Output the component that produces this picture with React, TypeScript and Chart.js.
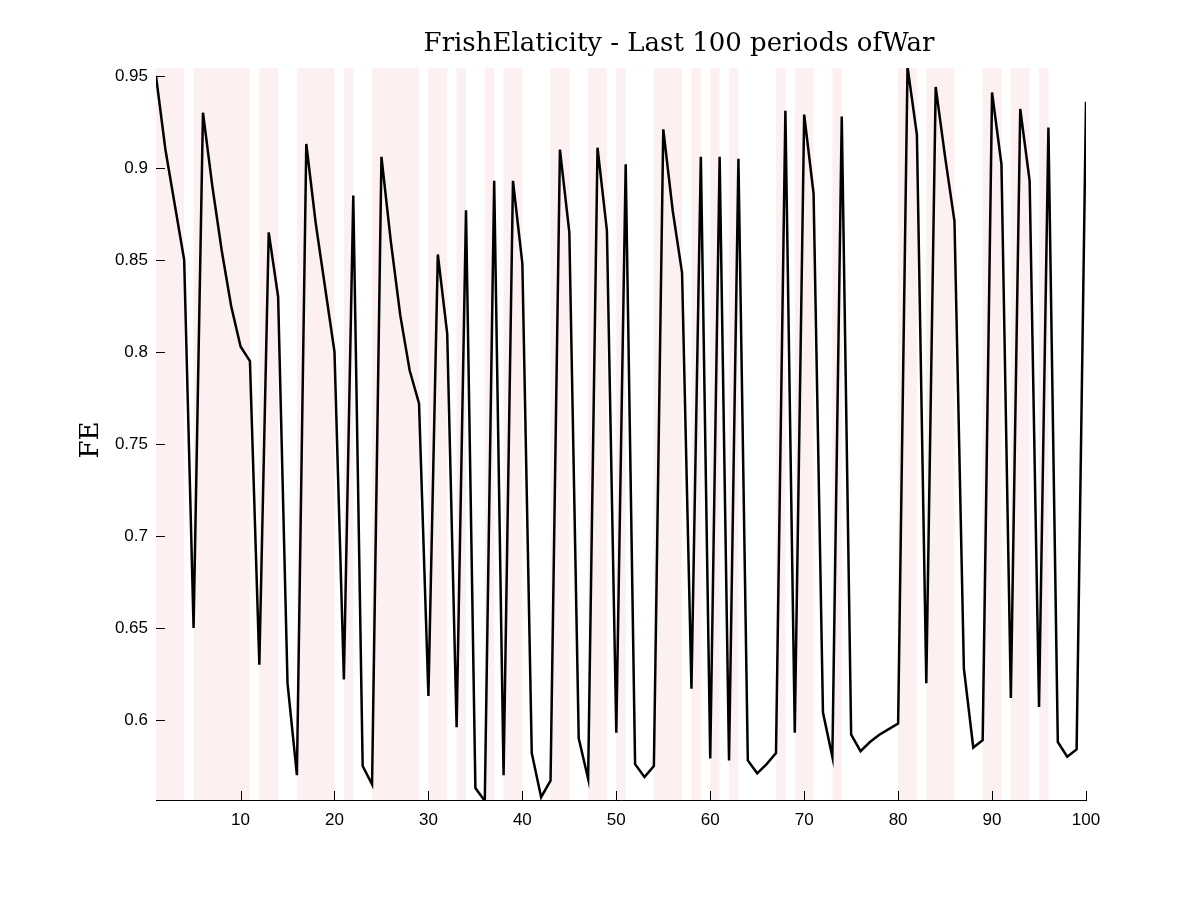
import React, { useEffect, useRef } from "react";
import { Chart, registerables } from "chart.js";

Chart.register(...registerables);

const periods: number[] = Array.from({ length: 100 }, (_, i) => i + 1);

const feValues: number[] = [
  0.95, 0.91, 0.88, 0.85, 0.65, 0.93, 0.89, 0.855, 0.825, 0.803,
  0.795, 0.63, 0.865, 0.83, 0.62, 0.57, 0.913, 0.87, 0.835, 0.8,
  0.622, 0.885, 0.575, 0.565, 0.906, 0.86, 0.82, 0.79, 0.772, 0.613,
  0.853, 0.81, 0.596, 0.877, 0.563, 0.556, 0.893, 0.57, 0.893, 0.848,
  0.582, 0.558, 0.567, 0.91, 0.865, 0.59, 0.568, 0.911, 0.866, 0.593,
  0.902, 0.576, 0.569, 0.575, 0.921, 0.877, 0.843, 0.617, 0.906, 0.579,
  0.906, 0.578, 0.905, 0.578, 0.571, 0.576, 0.582, 0.931, 0.593, 0.929,
  0.886, 0.604, 0.58, 0.928, 0.592, 0.583, 0.588, 0.592, 0.595, 0.598,
  0.955, 0.918, 0.62, 0.944, 0.906, 0.871, 0.628, 0.585, 0.589, 0.941,
  0.902, 0.612, 0.932, 0.893, 0.607, 0.922, 0.588, 0.58, 0.584, 0.936,
];

// war periods shaded: [start, end] in period units
const warBands: [number, number][] = [
  [1, 4], [5, 11], [12, 14], [16, 20], [21, 22], [24, 29], [30, 32], [33, 34],
  [36, 37], [38, 40], [43, 45], [47, 49], [50, 51], [54, 57], [58, 59], [60, 61],
  [62, 63], [67, 68], [69, 71], [73, 74], [80, 82], [83, 86], [89, 91], [92, 94],
  [95, 96],
];

const xTicks: number[] = [10, 20, 30, 40, 50, 60, 70, 80, 90, 100];
const yTicks: number[] = [0.6, 0.65, 0.7, 0.75, 0.8, 0.85, 0.9, 0.95];

const decorPlugin = {
  id: "decor",
  beforeDatasetsDraw(chart: any) {
    const { ctx, chartArea: a, scales } = chart;
    const x = scales.x;
    ctx.save();
    ctx.fillStyle = "#fdf0f0";
    warBands.forEach(([s, e]) => {
      const x0 = x.getPixelForValue(s);
      const x1 = x.getPixelForValue(e);
      ctx.fillRect(x0, a.top, x1 - x0, a.bottom - a.top);
    });
    ctx.restore();
  },
  afterDraw(chart: any) {
    const { ctx, chartArea: a, scales } = chart;
    ctx.save();
    ctx.strokeStyle = "#000";
    ctx.lineWidth = 1;
    ctx.beginPath();
    xTicks.forEach((t) => {
      const px = Math.round(scales.x.getPixelForValue(t)) + 0.5;
      ctx.moveTo(px, a.bottom);
      ctx.lineTo(px, a.bottom - 9);
    });
    yTicks.forEach((t) => {
      const py = Math.round(scales.y.getPixelForValue(t)) + 0.5;
      ctx.moveTo(a.left, py);
      ctx.lineTo(a.left + 9, py);
    });
    ctx.stroke();
    ctx.fillStyle = "#000";
    ctx.font = "26px 'DejaVu Serif', serif";
    ctx.textAlign = "center";
    ctx.textBaseline = "middle";
    ctx.fillText("FrishElaticity - Last 100 periods ofWar", 679, 44);
    ctx.translate(91, 440);
    ctx.rotate(-Math.PI / 2);
    ctx.fillText("FE", 0, 0);
    ctx.restore();
  },
};

const App: React.FC = () => {
  const canvasRef = useRef<HTMLCanvasElement | null>(null);
  const chartRef = useRef<Chart | null>(null);

  useEffect(() => {
    document.body.style.margin = "0";
    if (!canvasRef.current) return;
    if (chartRef.current) chartRef.current.destroy();
    const ctx = canvasRef.current.getContext("2d");
    if (!ctx) return;

    chartRef.current = new Chart(ctx, {
      type: "line",
      data: {
        datasets: [
          {
            label: "FE",
            data: periods.map((p, i) => ({ x: p, y: feValues[i] })),
            borderColor: "#000",
            borderWidth: 2.5,
            pointRadius: 0,
            tension: 0,
            fill: false,
          },
        ],
      },
      options: {
        animation: false,
        responsive: false,
        layout: { padding: { top: 68, right: 114, bottom: 0, left: 0 } },
        plugins: { legend: { display: false }, tooltip: { enabled: false } },
        scales: {
          x: {
            type: "linear",
            min: 1,
            max: 100,
            afterBuildTicks: (s: any) => {
              s.ticks = xTicks.map((v) => ({ value: v }));
            },
            afterFit: (s: any) => {
              s.height = 100;
            },
            grid: { display: false, drawTicks: false },
            border: { display: true, color: "#000", width: 1 },
            ticks: {
              padding: 10,
              color: "#000",
              font: { family: "'Liberation Sans', Arial", size: 17 },
              maxRotation: 0,
              autoSkip: false,
            },
          },
          y: {
            type: "linear",
            min: 0.5565,
            max: 0.9543,
            afterBuildTicks: (s: any) => {
              s.ticks = yTicks.map((v) => ({ value: v }));
            },
            afterFit: (s: any) => {
              s.width = 156;
            },
            grid: { display: false, drawTicks: false },
            border: { display: true, color: "#000", width: 1 },
            ticks: {
              padding: 8,
              color: "#000",
              font: { family: "'Liberation Sans', Arial", size: 17 },
              callback: (v: any) => String(Math.round(Number(v) * 100) / 100),
            },
          },
        },
      },
      plugins: [decorPlugin],
    });

    return () => {
      if (chartRef.current) {
        chartRef.current.destroy();
        chartRef.current = null;
      }
    };
  }, []);

  return (
    <div style={{ width: 1200, height: 900, background: "#fff" }}>
      <canvas ref={canvasRef} width={1200} height={900} />
    </div>
  );
};

export default App;
